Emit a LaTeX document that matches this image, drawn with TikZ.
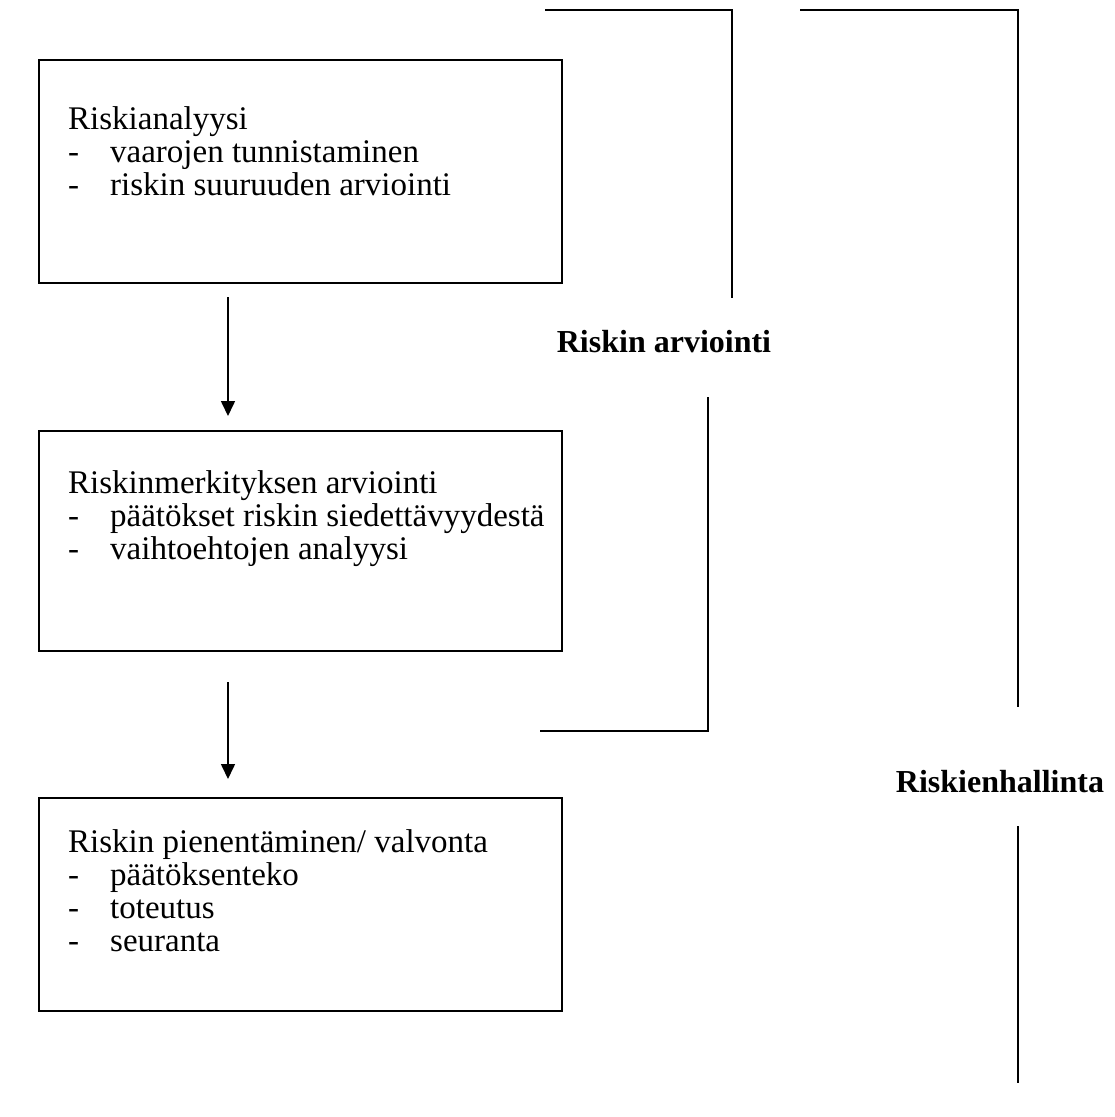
\documentclass[tikz,border=0pt]{standalone}
\usepackage{fontspec}
\setmainfont{Liberation Serif}
\usetikzlibrary{arrows.meta,positioning}

\tikzset{
  stagebox/.style={draw,line width=2.2pt,minimum width=523pt,inner sep=0pt,anchor=north west},
  stagetext/.style={anchor=north west,align=left,inner sep=0pt,font=\fontsize{33}{33}\selectfont},
  flow/.style={line width=1.6pt,-{Triangle[width=14pt,length=15pt]}},
  bracket/.style={line width=1.6pt},
  phase/.style={anchor=base,inner sep=0pt,font=\fontsize{32}{34}\selectfont\bfseries},
}
\newcommand{\stageitem}[1]{\makebox[42pt][l]{-}#1}

\begin{document}
\begin{tikzpicture}[x=1pt,y=-1pt]
  \useasboundingbox (0,0) rectangle (1115,1117);
  % three stages
  \node[stagebox,minimum height=223pt] (analysis) at (38,59) {};
  \node[stagebox,minimum height=220pt] (evaluation) at (38,430) {};
  \node[stagebox,minimum height=213pt] (reduction) at (38,797) {};
  \node[stagetext] (analysistext) at ([xshift=30pt,yshift=-47pt]analysis.north west)
    {Riskianalyysi\\ \stageitem{vaarojen tunnistaminen}\\ \stageitem{riskin suuruuden arviointi}};
  \node[stagetext] (evaluationtext) at ([xshift=30pt,yshift=-40pt]evaluation.north west)
    {Riskinmerkityksen arviointi\\ \stageitem{päätökset riskin siedettävyydestä}\\ \stageitem{vaihtoehtojen analyysi}};
  \node[stagetext] (reductiontext) at ([xshift=30pt,yshift=-32pt]reduction.north west)
    {Riskin pienentäminen/ valvonta\\ \stageitem{päätöksenteko}\\ \stageitem{toteutus}\\ \stageitem{seuranta}};
  % arrows between stages
  \coordinate (flowAa) at (228,297);
  \coordinate (flowAb) at (228,416);
  \coordinate (flowBa) at (228,682);
  \coordinate (flowBb) at (228,779);
  \draw[flow] (flowAa) -- (flowAb);
  \draw[flow] (flowBa) -- (flowBb);
  % brackets
  \node[phase] (assess) at (664,352) {Riskin arviointi};
  \node[phase] (manage) at (1000,792) {Riskienhallinta};
  \coordinate (assessA) at (545,10);
  \coordinate (assessB) at (732,298);
  \coordinate (assessC) at (708,397);
  \coordinate (assessD) at (540,731);
  \coordinate (manageA) at (800,10);
  \coordinate (manageB) at (1018,707);
  \coordinate (manageC) at (1018,826);
  \coordinate (manageD) at (1018,1083);
  \draw[bracket] (assessA) -| (assessB);
  \draw[bracket] (assessC) |- (assessD);
  \draw[bracket] (manageA) -| (manageB);
  \draw[bracket] (manageC) -- (manageD);
\end{tikzpicture}
\end{document}
